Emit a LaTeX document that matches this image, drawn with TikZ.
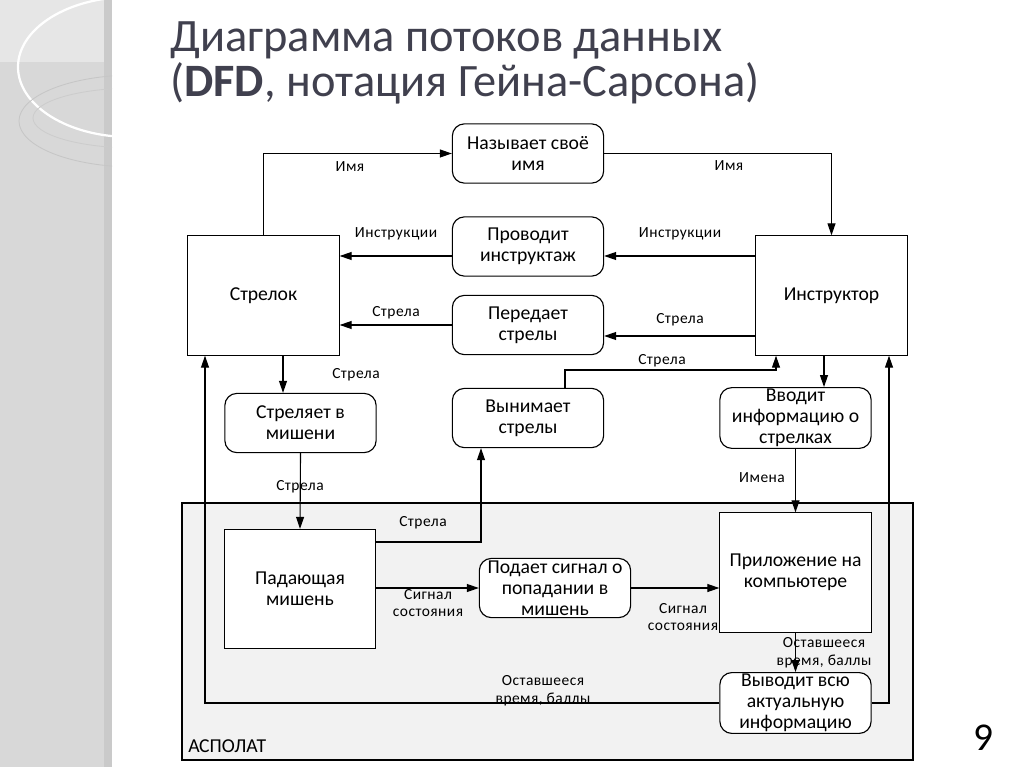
\documentclass[tikz,border=0pt]{standalone}
\usepackage{fontspec}
\setmainfont{Carlito}
\newfontfamily\lblfont{Carlito}[LetterSpace=3]
\usepackage{tikz}
\usetikzlibrary{arrows.meta}
\usetikzlibrary{calc}

\definecolor{stripgray}{HTML}{D8D8D8}
\definecolor{stripedge}{HTML}{CACACA}
\definecolor{striplight}{HTML}{E6E6E6}
\definecolor{titlecol}{HTML}{40404E}
\definecolor{sysfill}{HTML}{F2F2F2}

\newcommand{\dfdfont}{\fontsize{14}{15}\selectfont}
\newcommand{\flowfont}{\lblfont\fontsize{11}{12.5}\selectfont}

\begin{document}
\begin{tikzpicture}[x=0.025cm, y=-0.025cm,
    flow/.style={-{Triangle[length=3mm, width=2mm]}, line width=0.8pt},
    proc/.style={draw, line width=0.8pt, rounded corners=3mm, fill=white,
        minimum width=3.78cm, minimum height=1.48cm, align=center,
        font=\dfdfont, inner sep=1pt},
    ent/.style={draw, line width=0.8pt, fill=white, minimum width=3.78cm,
        minimum height=2.98cm, align=center, font=\dfdfont},
    lbl/.style={font=\flowfont, align=center, inner sep=0pt}]
    \useasboundingbox (0,0) rectangle (1024,767);
    \fill[white] (0,0) rectangle (1024,767);

    % Draw the side strip
    \begin{scope}
        \clip (0,0) rectangle (112,767);
        \fill[stripgray] (0,0) rectangle (112,767);
        \fill[striplight] (0,0) rectangle (104,62);
        \fill[stripedge] (104,0) rectangle (112,767);
        \draw[white, line width=1.6pt] (130,67) ellipse (112 and 70);
        \draw[gray!45, line width=0.6pt] (135,121) ellipse (116 and 46);
        \draw[gray!40, line width=0.6pt] (135,118) ellipse (102 and 30);
    \end{scope}

    % Draw the title
    \node[anchor=base west, inner sep=0pt, text=titlecol, font=\fontsize{33}{37}\selectfont] (title1) at (170,52) {Диаграмма потоков данных};
    \node[anchor=base west, inner sep=0pt, text=titlecol, font=\fontsize{33}{37}\selectfont] (title2) at (170,97) {(\textbf{DFD}, нотация Гейна-Сарсона)};

    % Draw the system boundary
    \draw[line width=0.8pt, fill=sysfill] (182,503) rectangle (913,760);
    \node[anchor=base west, inner sep=0pt, font=\dfdfont] (aspolat) at (188,752) {АСПОЛАТ};

    % Draw the external entities
    \node[ent] (strelok) at (263.5,295.5) {Стрелок};
    \node[ent] (instr) at (831.5,295.5) {Инструктор};
    \node[ent] (mishen) at (300,589) {Падающая\\мишень};
    \node[ent] (prilozh) at (795.5,572.5) {Приложение на\\компьютере};

    % Draw the processes
    \node[proc] (nazyv) at (528,153.5) {Называет своё\\имя};
    \node[proc] (provod) at (528,246.5) {Проводит\\инструктаж};
    \node[proc] (pered) at (528,325) {Передает\\стрелы};
    \node[proc] (strelyaet) at (300.5,423) {Стреляет в\\мишени};
    \node[proc] (vynim) at (528,418) {Вынимает\\стрелы};
    \node[proc] (vvodit) at (795.5,418) {Вводит\\информацию о\\стрелках};
    \node[proc] (podaet) at (555,588) {Подает сигнал о\\попадании в\\мишень};
    \node[proc] (vyvodit) at (795.5,703) {Выводит всю\\актуальную\\информацию};

    % Rows and columns of the flows
    \coordinate (ya) at (0,256);
    \coordinate (yb) at (0,325);
    \coordinate (yc) at (0,336);
    \coordinate (yd) at (0,370);
    \coordinate (ye) at (0,542);
    \coordinate (xa) at (283,0);
    \coordinate (xb) at (205,0);
    \coordinate (xc) at (776,0);
    \coordinate (xd) at (824,0);
    \coordinate (xe) at (889,0);
    \coordinate (xf) at (565,0);
    \coordinate (xg) at (481,0);

    % Draw the data flows
    \draw[flow] (strelok.north) |- (nazyv.west);
    \draw[flow] (nazyv.east) -| (instr.north);
    \draw[flow] (instr.west |- ya) -- (provod.east |- ya);
    \draw[flow] (provod.west |- ya) -- (strelok.east |- ya);
    \draw[flow] (instr.west |- yc) -- (pered.east |- yc);
    \draw[flow] (pered.west |- yb) -- (strelok.east |- yb);
    \draw[flow] (vynim.north -| xf) |- (yd -| xc) -- (instr.south -| xc);
    \draw[flow] (strelok.south -| xa) -- (strelyaet.north -| xa);
    \draw[flow] (strelyaet.south) -- (mishen.north);
    \draw[flow] (mishen.east |- ye) -| (vynim.south -| xg);
    \draw[flow] (mishen.east |- podaet.west) -- (podaet.west);
    \draw[flow] (podaet.east) -- (prilozh.west |- podaet.east);
    \draw[flow] (instr.south -| xd) -- (vvodit.north -| xd);
    \draw[flow] (vvodit.south) -- (prilozh.north);
    \draw[flow] (prilozh.south) -- (vyvodit.north);
    \draw[flow] (vyvodit.west) -| (strelok.south -| xb);
    \draw[flow] (vyvodit.east) -| (instr.south -| xe);

    % Flow labels
    \node[lbl] (l1) at (350,167) {Имя};
    \node[lbl] (l2) at (729,166) {Имя};
    \node[lbl] (l3) at (396,234) {Инструкции};
    \node[lbl] (l4) at (680,234) {Инструкции};
    \node[lbl] (l5) at (396,313) {Стрела};
    \node[lbl] (l6) at (680,320) {Стрела};
    \node[lbl] (l7) at (662,361) {Стрела};
    \node[lbl] (l8) at (356,375) {Стрела};
    \node[lbl] (l9) at (300,487) {Стрела};
    \node[lbl] (l10) at (423,523) {Стрела};
    \node[lbl] (l11) at (762,478) {Имена};
    \node[lbl] (l12) at (428,603) {Сигнал\\состояния};
    \node[lbl] (l13) at (683,617) {Сигнал\\состояния};
    \node[lbl] (l14) at (824,653) {Оставшееся\\время, баллы};
    \node[lbl] (l15) at (543,691) {Оставшееся\\время, баллы};

    % Page number
    \node[anchor=base, inner sep=0pt, font=\fontsize{28}{30}\selectfont] (pagenum) at (983,750) {9};
\end{tikzpicture}
\end{document}
